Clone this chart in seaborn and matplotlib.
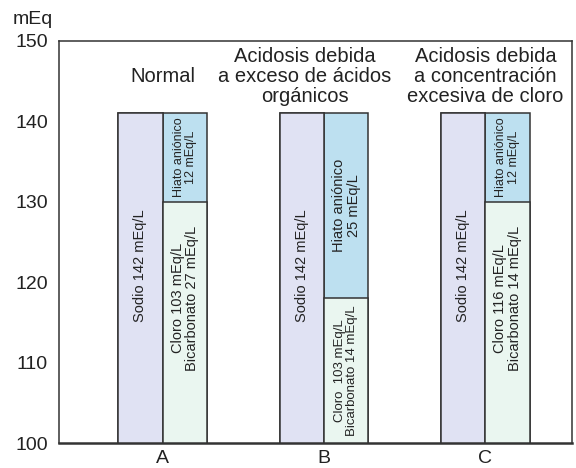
import matplotlib
matplotlib.use("Agg")
import matplotlib.pyplot as plt
import seaborn as sns
import pandas as pd

# ---- data ----
groups = ["A", "B", "C"]
sodio_top = [141, 141, 141]          # cations (sodium) bar top
aniones_top = [141, 141, 141]        # total anions (incl. anion gap)
cl_hco3_top = [130, 118, 130]        # chloride + bicarbonate top
titles = ["Normal",
          "Acidosis debida\na exceso de ácidos\norgánicos",
          "Acidosis debida\na concentración\nexcesiva de cloro"]
sodio_labels = ["Sodio 142 mEq/L"] * 3
cl_labels = ["Cloro 103 mEq/L\nBicarbonato 27 mEq/L",
             "Cloro  103 mEq/L\nBicarbonato 14 mEq/L",
             "Cloro 116 mEq/L\nBicarbonato 14 mEq/L"]
gap_labels = ["Hiato aniónico\n12 mEq/L",
              "Hiato aniónico\n25 mEq/L",
              "Hiato aniónico\n12 mEq/L"]
yticks = [100, 110, 120, 130, 140, 150]

# ---- styling / layout ----
sns.set_theme(style="white")
plt.rcParams["font.family"] = ["Liberation Sans", "DejaVu Sans"]

C_NA = "#E0E2F3"
C_GAP = "#BDE0F0"
C_CL = "#EAF6F0"
EDGE = "#333333"
TXT = "#222222"
WIDTH = 0.55

df_top = pd.DataFrame({
    "grupo": groups * 2,
    "serie": ["Na"] * 3 + ["An"] * 3,
    "valor": sodio_top + aniones_top,
})
df_low = pd.DataFrame({
    "grupo": groups * 2,
    "serie": ["Na"] * 3 + ["An"] * 3,
    "valor": sodio_top + cl_hco3_top,
})

fig = plt.figure(figsize=(5.76, 4.68), dpi=100)
ax = fig.add_axes([0.1024, 0.0534, 0.8906, 0.859])

sns.barplot(data=df_top, x="grupo", y="valor", hue="serie", hue_order=["Na", "An"],
            palette={"Na": C_NA, "An": C_GAP}, width=WIDTH, gap=0, errorbar=None,
            edgecolor=EDGE, linewidth=1.1, legend=False, ax=ax, saturation=1)
sns.barplot(data=df_low, x="grupo", y="valor", hue="serie", hue_order=["Na", "An"],
            palette={"Na": C_NA, "An": C_CL}, width=WIDTH, gap=0, errorbar=None,
            edgecolor=EDGE, linewidth=1.1, legend=False, ax=ax, saturation=1)

ax.set_ylim(100, 150)
ax.set_xlim(-0.642, 2.536)
ax.set_yticks(yticks)
ax.set_xlabel("")
ax.set_ylabel("")
ax.tick_params(axis="both", length=0, labelsize=14, colors=TXT)
ax.tick_params(axis="y", pad=8)
ax.tick_params(axis="x", pad=5)
for s in ax.spines.values():
    s.set_visible(True)
    s.set_color("#333333")
    s.set_linewidth(1.1)
ax.spines["bottom"].set_linewidth(1.8)

off = WIDTH / 4
sodio_y = [122, 122, 122]
cl_y = [118, 109, 118]
cl_size = [10.5, 9.5, 10.5]
gap_size = [9, 10.5, 9]
title_x = [0.0, 0.88, 2.0]

for i in range(3):
    ax.text(i - off, sodio_y[i], sodio_labels[i], rotation=90, ha="center", va="center",
            fontsize=10.5, color=TXT, rotation_mode="anchor")
    ax.text(i + off, cl_y[i], cl_labels[i], rotation=90, ha="center", va="center",
            fontsize=cl_size[i], color=TXT, linespacing=1.05, multialignment="center",
            rotation_mode="anchor")
    ax.text(i + off, (cl_hco3_top[i] + aniones_top[i]) / 2, gap_labels[i], rotation=90,
            ha="center", va="center", fontsize=gap_size[i], color=TXT, linespacing=1.05,
            multialignment="center", rotation_mode="anchor")
    ax.text(title_x[i], 145.6, titles[i], ha="center", va="center", fontsize=14.5,
            color=TXT, linespacing=1.05, multialignment="center")

fig.text(0.0226, 0.959, "mEq", ha="left", va="center", fontsize=14, color=TXT)

fig.savefig("out.png", dpi=100)
